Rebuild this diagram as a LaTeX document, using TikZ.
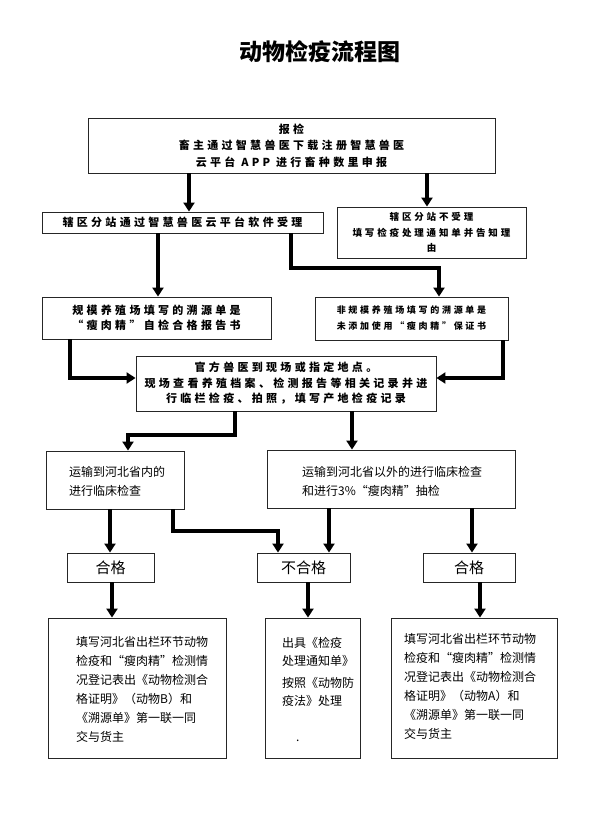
\documentclass[tikz,border=0pt]{standalone}
\usepackage{fontspec}
\setmainfont{Noto Sans CJK SC}
\newfontfamily\cjksp[LetterSpace=30]{Noto Sans CJK SC}
\usetikzlibrary{arrows.meta}
\tikzset{
  box/.style={draw=black!85, line width=0.9pt, inner sep=0pt, align=center},
  arr/.style={line width=3.6pt, -{Triangle[width=11pt,length=9pt]}},
  txt/.style={inner sep=0pt, align=left},
  bigf/.style={font=\cjksp\bfseries\fontsize{11}{16.5}\selectfont},
  okbox/.style={box, minimum height=29pt, font=\fontsize{15}{18}\selectfont},
  plain/.style={font=\fontsize{12}{19}\selectfont}
}
\begin{document}
\begin{tikzpicture}[x=1pt,y=-1pt]
\useasboundingbox[fill=white] (0,0) rectangle (595,822);
% title
\node[font=\bfseries\fontsize{23}{26}\selectfont] (title) at (320,52) {动物检疫流程图};
% top boxes
\node[box, bigf, minimum width=407pt, minimum height=55pt] (b1) at (291.5,145.5)
  {报检\\畜主通过智慧兽医下载注册智慧兽医\\云平台 APP 进行畜种数里申报};
\node[box, bigf, minimum width=281pt, minimum height=21pt] (b2) at (182.5,222.5)
  {辖区分站通过智慧兽医云平台软件受理};
\node[box, font=\cjksp\bfseries\fontsize{9.5}{15.5}\selectfont, minimum width=189pt, minimum height=51pt] (b3) at (431.5,232.5)
  {辖区分站不受理\\填写检疫处理通知单并告知理\\由};
\node[box, font=\cjksp\bfseries\fontsize{11}{15}\selectfont, minimum width=229pt, minimum height=42pt] (b4) at (156.5,318)
  {规模养殖场填写的溯源单是\\“瘦肉精”自检合格报告书};
\node[box, font=\cjksp\bfseries\fontsize{9}{16}\selectfont, minimum width=193pt, minimum height=43pt] (b5) at (411.5,318.5)
  {非规模养殖场填写的溯源单是\\未添加使用“瘦肉精”保证书};
\node[box, font=\cjksp\bfseries\fontsize{11}{15.5}\selectfont, minimum width=300pt, minimum height=55pt] (b6) at (286,383.5)
  {官方兽医到现场或指定地点。\\现场查看养殖档案、检测报告等相关记录并进\\行临栏检疫、拍照，填写产地检疫记录};
% middle boxes
\node[box, minimum width=138pt, minimum height=58pt] (b7) at (115,480) {};
\node[txt, plain, anchor=west] (t7) at (69,481) {运输到河北省内的\\进行临床检查};
\node[box, minimum width=248pt, minimum height=58pt] (b8) at (391,479) {};
\node[txt, plain, anchor=west] (t8) at (302,481) {运输到河北省以外的进行临床检查\\和进行3\%“瘦肉精”抽检};
\node[okbox, minimum width=87pt] (b9) at (110.5,567.5) {合格};
\node[okbox, minimum width=93pt] (b10) at (303.5,567.5) {不合格};
\node[okbox, minimum width=92pt] (b11) at (469,567.5) {合格};
% bottom boxes
\node[box, minimum width=178pt, minimum height=140pt] (b12) at (137,688) {};
\node[txt, plain, anchor=west] (t12) at (76,689)
  {填写河北省出栏环节动物\\检疫和“瘦肉精”检测情\\况登记表出《动物检测合\\格证明》（动物B）和\\《溯源单》第一联一同\\交与货主};
\node[box, minimum width=95pt, minimum height=140pt] (b13) at (312.5,688) {};
\node[txt, font=\fontsize{12}{18}\selectfont, anchor=west] (t13) at (282,689)
  {出具《检疫\\处理通知单》\\[4pt]按照《动物防\\疫法》处理\\[18pt]\hspace*{14pt}.};
\node[box, minimum width=166pt, minimum height=140pt] (b14) at (474,688) {};
\node[txt, plain, anchor=west] (t14) at (404,686)
  {填写河北省出栏环节动物\\检疫和“瘦肉精”检测情\\况登记表出《动物检测合\\格证明》（动物A）和\\《溯源单》第一联一同\\交与货主};
% connector coordinates
\coordinate (xa) at (189,0);
\coordinate (xb) at (427,0);
\coordinate (xc) at (158,0);
\coordinate (k1) at (291,268);
\coordinate (k2) at (439,268);
\coordinate (k3) at (70,378);
\coordinate (k4) at (503,378);
\coordinate (k5) at (235,435);
\coordinate (k6) at (128,435);
\coordinate (x8) at (352,0);
\coordinate (x9) at (110,0);
\coordinate (k7) at (173,531);
\coordinate (k8) at (278,531);
\coordinate (x10) at (329,0);
\coordinate (x11) at (472,0);
\coordinate (x12) at (112,0);
\coordinate (x13) at (308,0);
\coordinate (x14) at (480,0);
% connectors
\draw[arr] (b1.south -| xa) -- (b2.north -| xa);
\draw[arr] (b1.south -| xb) -- (b3.north -| xb);
\draw[arr] (b2.south -| xc) -- (b4.north -| xc);
\draw[arr] (b2.south -| k1) -- (k1) -- (k2) -- (b5.north -| k2);
\draw[arr] (b4.south -| k3) |- (b6.west |- k3);
\draw[arr] (b5.south -| k4) |- (b6.east |- k4);
\draw[arr] (b6.south -| k5) -- (k5) -- (k6) -- (b7.north -| k6);
\draw[arr] (b6.south -| x8) -- (b8.north -| x8);
\draw[arr] (b7.south -| x9) -- (b9.north -| x9);
\draw[arr] (b7.south -| k7) -- (k7) -- (k8) -- (b10.north -| k8);
\draw[arr] (b8.south -| x10) -- (b10.north -| x10);
\draw[arr] (b8.south -| x11) -- (b11.north -| x11);
\draw[arr] (b9.south -| x12) -- (b12.north -| x12);
\draw[arr] (b10.south -| x13) -- (b13.north -| x13);
\draw[arr] (b11.south -| x14) -- (b14.north -| x14);
\end{tikzpicture}
\end{document}
